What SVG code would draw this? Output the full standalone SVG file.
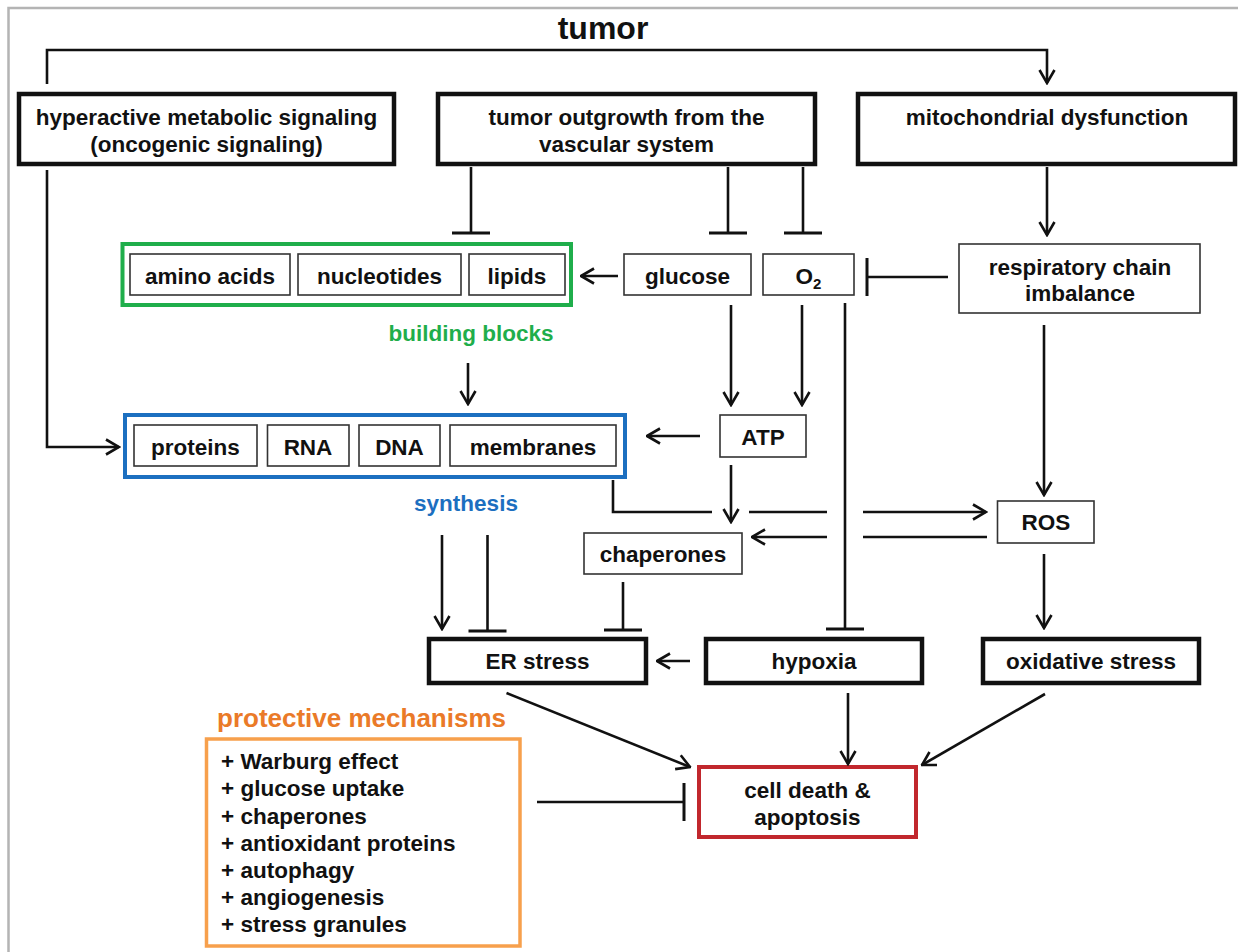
<svg xmlns="http://www.w3.org/2000/svg" width="1238" height="952" viewBox="0 0 1238 952">
<defs>
<style>
text{font-family:"Liberation Sans",Arial,sans-serif;font-weight:bold;fill:#111;}
.t{font-size:22.5px;text-anchor:middle;}
.li{font-size:22.5px;}
.thick{fill:#fff;stroke:#111;stroke-width:4.5;}
.thin{fill:#fff;stroke:#333;stroke-width:1.6;}
.c{fill:none;stroke:#111;stroke-width:2.6;}
.a{marker-end:url(#arr);}
.i{marker-end:url(#tee);}
</style>
<marker id="arr" viewBox="0 0 16 18" refX="14.5" refY="9" markerWidth="16" markerHeight="18" orient="auto" markerUnits="userSpaceOnUse">
<path d="M1.5,1.5 L14.5,9 L1.5,16.5" fill="none" stroke="#111" stroke-width="2.6"/>
</marker>
<marker id="tee" viewBox="0 0 4 40" refX="2" refY="20" markerWidth="4" markerHeight="40" orient="auto" markerUnits="userSpaceOnUse">
<path d="M2,1 V39" fill="none" stroke="#111" stroke-width="3"/>
</marker>
</defs>
<rect width="1238" height="952" fill="#fff"/>
<path d="M8.5,952 V8 H1238" fill="none" stroke="#b4b4b4" stroke-width="2.5"/>

<g id="title"><text x="603" y="39" style="font-size:32px;text-anchor:middle;">tumor</text></g>

<g id="hyperactive"><rect class="thick" x="19" y="94" width="375" height="70"/>
<text class="t" x="206.5" y="125">hyperactive metabolic signaling</text>
<text class="t" x="206.5" y="152">(oncogenic signaling)</text></g>

<g id="outgrowth"><rect class="thick" x="438" y="94" width="377" height="70"/>
<text class="t" x="626.5" y="125">tumor outgrowth from the</text>
<text class="t" x="626.5" y="152">vascular system</text></g>

<g id="mito"><rect class="thick" x="858" y="94" width="377" height="70"/>
<text class="t" x="1047" y="125">mitochondrial dysfunction</text></g>

<g id="building-blocks"><rect x="122.5" y="244" width="448.5" height="61" fill="#fff" stroke="#1fae4b" stroke-width="4"/>
<rect class="thin" x="130" y="254" width="160" height="41"/>
<text class="t" x="210" y="284">amino acids</text>
<rect class="thin" x="298" y="254" width="163" height="41"/>
<text class="t" x="379.5" y="284">nucleotides</text>
<rect class="thin" x="469" y="254" width="96" height="41"/>
<text class="t" x="517" y="284">lipids</text>
<text class="t" x="471" y="341" style="fill:#1fae4b;">building blocks</text></g>

<g id="glucose"><rect class="thin" x="624" y="254" width="127" height="41"/>
<text class="t" x="687.5" y="284">glucose</text></g>

<g id="o2"><rect class="thin" x="763" y="254" width="91" height="41"/>
<text class="t" x="808.5" y="284">O<tspan style="font-size:15px;" dy="5">2</tspan></text></g>

<g id="respiratory"><rect class="thin" x="959" y="244" width="241" height="69"/>
<text class="t" x="1080" y="275">respiratory chain</text>
<text class="t" x="1080" y="301">imbalance</text></g>

<g id="synthesis"><rect x="125" y="415" width="500" height="62" fill="#fff" stroke="#1c6fc0" stroke-width="4"/>
<rect class="thin" x="134" y="425" width="123" height="41"/>
<text class="t" x="195.5" y="455">proteins</text>
<rect class="thin" x="267.5" y="425" width="81.5" height="41"/>
<text class="t" x="308" y="455">RNA</text>
<rect class="thin" x="359" y="425" width="81" height="41"/>
<text class="t" x="399.5" y="455">DNA</text>
<rect class="thin" x="450" y="425" width="166" height="41"/>
<text class="t" x="533" y="455">membranes</text>
<text class="t" x="466" y="511" style="fill:#1c6fc0;">synthesis</text></g>

<g id="atp"><rect class="thin" x="720" y="415" width="86" height="42"/>
<text class="t" x="763" y="445">ATP</text></g>

<g id="ros"><rect class="thin" x="997.5" y="501" width="96.5" height="42"/>
<text class="t" x="1046" y="530">ROS</text></g>

<g id="chaperones"><rect class="thin" x="584" y="533" width="158" height="41"/>
<text class="t" x="663" y="562">chaperones</text></g>

<g id="er-stress"><rect class="thick" x="429" y="639" width="217" height="44"/>
<text class="t" x="537.5" y="669">ER stress</text></g>

<g id="hypoxia"><rect class="thick" x="706" y="639" width="216" height="44"/>
<text class="t" x="814" y="669">hypoxia</text></g>

<g id="oxidative"><rect class="thick" x="983" y="639" width="216" height="44"/>
<text class="t" x="1091" y="669">oxidative stress</text></g>

<g id="cell-death"><rect x="699" y="767" width="217" height="70" fill="#fff" stroke="#c1272d" stroke-width="4"/>
<text class="t" x="807.5" y="798">cell death &amp;</text>
<text class="t" x="807.5" y="825">apoptosis</text></g>

<g id="protective"><text x="217" y="727" style="font-size:26px;fill:#ea7a28;">protective mechanisms</text>
<rect x="206.5" y="739" width="313.5" height="207" fill="#fff" stroke="#f7a04c" stroke-width="3.5"/>
<text class="li" x="221" y="769">+ Warburg effect</text>
<text class="li" x="221" y="796">+ glucose uptake</text>
<text class="li" x="221" y="824">+ chaperones</text>
<text class="li" x="221" y="851">+ antioxidant proteins</text>
<text class="li" x="221" y="878">+ autophagy</text>
<text class="li" x="221" y="905">+ angiogenesis</text>
<text class="li" x="221" y="932">+ stress granules</text></g>

<g id="connectors">
<path class="c a" d="M47,84 V50 H1047 V83"/>
<path class="c a" d="M47,170 V447 H119"/>
<path class="c i" d="M471,167 V233"/>
<path class="c i" d="M728,167 V233"/>
<path class="c i" d="M803,167 V233"/>
<path class="c a" d="M1047,167 V235"/>
<path class="c a" d="M618,276 H581"/>
<path class="c i" d="M948,277 H867"/>
<path class="c a" d="M468,363 V404"/>
<path class="c a" d="M731,305 V405"/>
<path class="c a" d="M802,305 V405"/>
<path class="c a" d="M700,436 H647"/>
<path class="c i" d="M845,303 V629"/>
<path class="c a" d="M1044,325 V495"/>
<path class="c a" d="M1044,554 V628"/>
<path class="c" d="M613,480 V512 H712"/>
<path class="c" d="M749,512 H827"/>
<path class="c a" d="M863,512 H986"/>
<path class="c a" d="M731,465 V522"/>
<path class="c" d="M987,537 H863"/>
<path class="c a" d="M827,537 H752"/>
<path class="c i" d="M623,582 V630"/>
<path class="c a" d="M442,535 V629"/>
<path class="c i" d="M487.5,535 V631"/>
<path class="c a" d="M690,661 H657"/>
<path class="c a" d="M506.5,693 L690,767"/>
<path class="c a" d="M848,693 V764"/>
<path class="c a" d="M1045,694 L922,765"/>
<path class="c i" d="M537,802 H684"/>
</g>
</svg>
